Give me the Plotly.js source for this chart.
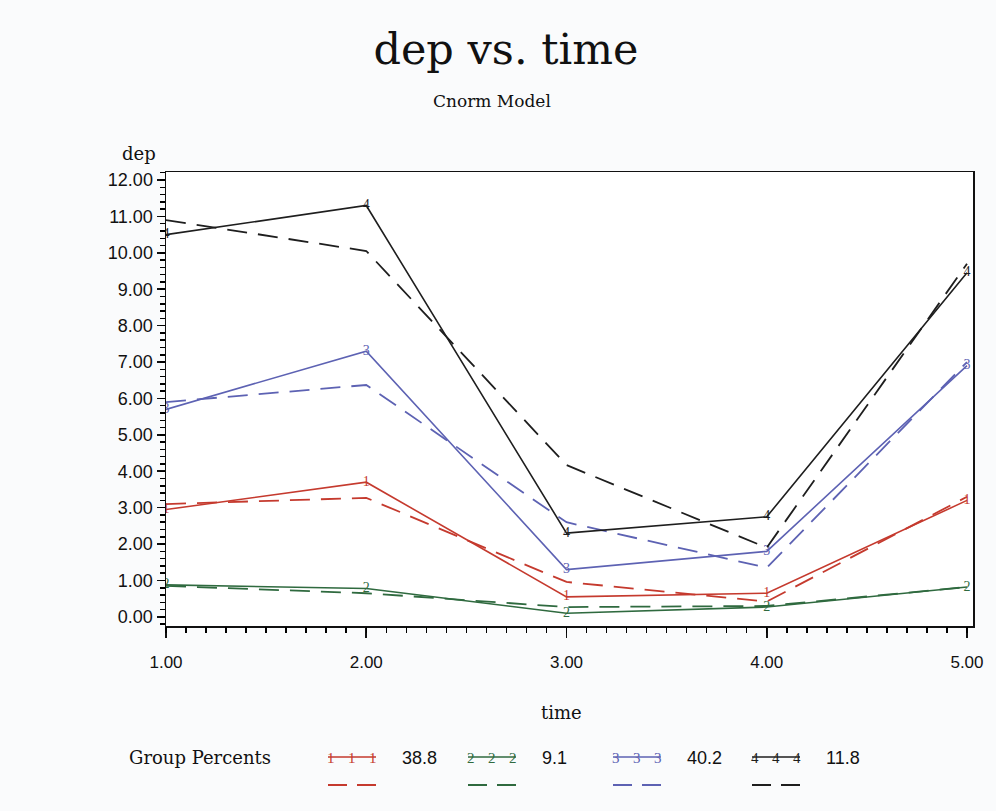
<!DOCTYPE html>
<html>
<head>
<meta charset="utf-8">
<script src="https://cdn.plot.ly/plotly-3.0.1.min.js"></script>
<style>
  html, body { margin: 0; padding: 0; background: #fafbfc; }
  #chart { width: 996px; height: 811px; }
</style>
</head>
<body>
<div id="chart"></div>
<script>
// ---- data ----
const time = [1, 2, 3, 4, 5];
const groupLabels = ['1', '2', '3', '4'];
const groupPercents = ['38.8', '9.1', '40.2', '11.8'];
const groupColors = ['#c53a2e', '#2f6a3f', '#5d62b3', '#1e1e1e'];

// observed (solid) trajectories
const obs1 = [2.95, 3.70, 0.55, 0.65, 3.20];
const obs2 = [0.88, 0.78, 0.10, 0.27, 0.82];
const obs3 = [5.70, 7.30, 1.30, 1.80, 6.90];
const obs4 = [10.50, 11.30, 2.30, 2.75, 9.45];

// predicted (dashed) trajectories
const pred1 = [3.10, 3.27, 0.96, 0.42, 3.30];
const pred2 = [0.85, 0.65, 0.27, 0.30, 0.82];
const pred3 = [5.90, 6.37, 2.60, 1.35, 7.00];
const pred4 = [10.90, 10.05, 4.17, 1.90, 9.70];

// axis ticks: start, step, label format
const xTickStart = 1, xTickStep = 1, xMinorStep = 0.1;
const yTickStart = 0, yTickStep = 1, yMinorStep = 0.2;
const tickFormat = '.2f';
const xRange = [1, 5.03];
const yRange = [-0.25, 12.22];

const observed = [obs1, obs2, obs3, obs4];
const predicted = [pred1, pred2, pred3, pred4];

const traces = [];
// empty trace carrying the minor-tick axes
traces.push({ x: [null], y: [null], xaxis: 'x2', yaxis: 'y2', type: 'scatter', mode: 'lines',
  showlegend: false, hoverinfo: 'skip' });
for (let g = 0; g < 4; g++) {
  traces.push({
    x: time, y: predicted[g], type: 'scatter', mode: 'lines',
    line: { color: groupColors[g], width: 1.8, dash: '20px,11px' },
    showlegend: false, hoverinfo: 'skip'
  });
  traces.push({
    x: time, y: observed[g], type: 'scatter', mode: 'lines+text',
    text: time.map(() => groupLabels[g]),
    textposition: 'middle center',
    textfont: { family: 'Liberation Serif', size: 14, color: groupColors[g] },
    line: { color: groupColors[g], width: 1.6 },
    showlegend: false, hoverinfo: 'skip'
  });
}

// ---- legend (custom, SAS style) ----
const shapes = [];
const annotations = [
  { text: 'Group Percents', xref: 'paper', yref: 'paper', x: -0.048, y: -0.29,
    xanchor: 'left', yanchor: 'middle', showarrow: false,
    font: { family: 'DejaVu Serif', size: 18, color: '#111' } },
  { text: 'dep', xref: 'paper', yref: 'paper', x: -0.033, y: 1.04,
    xanchor: 'center', yanchor: 'middle', showarrow: false,
    font: { family: 'DejaVu Serif', size: 18, color: '#111' } },
  { text: 'time', xref: 'paper', yref: 'paper', x: 0.49, y: -0.19,
    xanchor: 'center', yanchor: 'middle', showarrow: false,
    font: { family: 'DejaVu Serif', size: 18, color: '#111' } },
  { text: 'Cnorm Model', xref: 'paper', yref: 'paper', x: 0.404, y: 1.157,
    xanchor: 'center', yanchor: 'middle', showarrow: false,
    font: { family: 'DejaVu Serif', size: 17, color: '#111' } }
];
const legX0 = [328, 468, 613, 752];   // pixel start of each legend sample
const plotL = 166, plotW = 807, plotT = 172, plotH = 454;
const px = (p) => (p - plotL) / plotW;
const py = (p) => 1 - (p - plotT) / plotH;
for (let g = 0; g < 4; g++) {
  const x0 = legX0[g], x1 = x0 + 48;
  shapes.push({ type: 'line', xref: 'paper', yref: 'paper',
    x0: px(x0), x1: px(x1), y0: py(757), y1: py(757),
    line: { color: groupColors[g], width: 1.6 } });
  shapes.push({ type: 'line', xref: 'paper', yref: 'paper',
    x0: px(x0), x1: px(x1), y0: py(785), y1: py(785),
    line: { color: groupColors[g], width: 2, dash: '19px,10px' } });
  for (let k = 0; k < 3; k++) {
    annotations.push({ text: groupLabels[g], xref: 'paper', yref: 'paper',
      x: px(x0 + 3 + k * 21), y: py(758), xanchor: 'center', yanchor: 'middle',
      showarrow: false,
      font: { family: 'Liberation Serif', size: 15, color: groupColors[g] } });
  }
  annotations.push({ text: groupPercents[g], xref: 'paper', yref: 'paper',
    x: px(x1 + 24), y: py(758), xanchor: 'left', yanchor: 'middle',
    showarrow: false,
    font: { family: 'Liberation Sans', size: 18, color: '#111' } });
}

const layout = {
  width: 996, height: 811,
  paper_bgcolor: '#fafbfc', plot_bgcolor: '#ffffff',
  margin: { l: 166, r: 23, t: 172, b: 185 },
  title: { text: 'dep vs. time', x: 0.508, xanchor: 'center', y: 0.94, yanchor: 'middle',
    font: { family: 'DejaVu Serif', size: 43, color: '#111' } },
  xaxis: {
    range: xRange, tickmode: 'linear', tick0: xTickStart, dtick: xTickStep, tickformat: tickFormat,
    ticks: 'outside', ticklen: 10, tickwidth: 1.6, tickcolor: '#111',
    showline: true, linecolor: '#111', linewidth: 1.5, mirror: true,
    showgrid: false, zeroline: false,
    tickfont: { family: 'Liberation Sans', size: 17, color: '#111' },
    ticklabelstandoff: 10
  },
  yaxis: {
    range: yRange, tickmode: 'linear', tick0: yTickStart, dtick: yTickStep, tickformat: tickFormat,
    ticks: 'outside', ticklen: 8, tickwidth: 1.6, tickcolor: '#111',
    showline: true, linecolor: '#111', linewidth: 1.5, mirror: true,
    showgrid: false, zeroline: false,
    tickfont: { family: 'Liberation Sans', size: 18, color: '#111' }
  },
  xaxis2: {
    overlaying: 'x', anchor: 'y2', side: 'bottom',
    range: xRange, tickmode: 'linear', tick0: xTickStart, dtick: xMinorStep,
    ticks: 'outside', ticklen: 6, tickwidth: 1.5, tickcolor: '#000',
    showticklabels: false, showline: false, showgrid: false, zeroline: false
  },
  yaxis2: {
    overlaying: 'y', anchor: 'x2', side: 'left',
    range: yRange, tickmode: 'linear', tick0: yTickStart, dtick: yMinorStep,
    ticks: 'outside', ticklen: 5, tickwidth: 1.5, tickcolor: '#000',
    showticklabels: false, showline: false, showgrid: false, zeroline: false
  },
  shapes: shapes,
  annotations: annotations,
  showlegend: false
};

Plotly.newPlot('chart', traces, layout, { displayModeBar: false, staticPlot: true });
</script>
</body>
</html>
